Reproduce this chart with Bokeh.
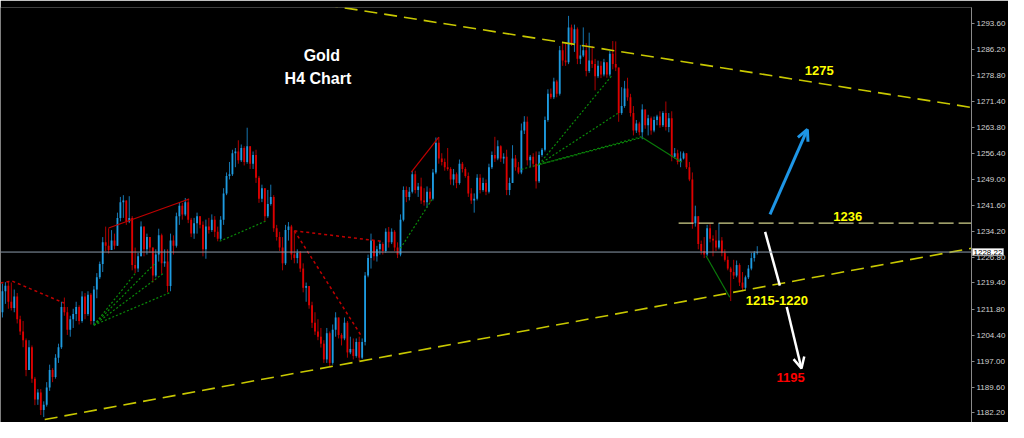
from bokeh.plotting import figure
from bokeh.models import Range1d, FixedTicker, NumeralTickFormatter, Span, Label, Arrow, OpenHead, ColumnDataSource
from bokeh.embed import file_html
from bokeh.resources import INLINE

# ---------------- data ----------------
first_open = 1211.0
close = [1217.0, 1218.6, 1214.0, 1212.2, 1215.5, 1209.0, 1205.5, 1203.0, 1194.5, 1201.0,
         1192.0, 1186.0, 1188.0, 1183.0, 1184.5, 1189.5, 1194.5, 1192.5, 1198.0, 1201.0,
         1212.5, 1211.0, 1206.0, 1209.0, 1210.5, 1212.5, 1208.5, 1215.5, 1210.5, 1216.0,
         1208.5, 1217.5, 1221.0, 1224.8, 1231.0, 1230.0, 1228.8, 1231.5, 1230.0, 1238.0,
         1242.5, 1243.0, 1237.0, 1238.0, 1224.5, 1223.5, 1227.0, 1235.5, 1229.0, 1232.5,
         1229.5, 1221.5, 1227.5, 1233.0, 1225.0, 1225.5, 1218.5, 1231.5, 1230.0, 1238.5,
         1241.5, 1239.0, 1242.5, 1237.5, 1233.5, 1236.5, 1238.5, 1236.0, 1229.0, 1235.5,
         1234.5, 1237.5, 1234.0, 1232.0, 1237.5, 1245.0, 1250.0, 1250.5, 1256.5, 1257.0,
         1254.5, 1258.0, 1254.0, 1258.5, 1253.5, 1256.0, 1249.5, 1243.5, 1246.5, 1238.5,
         1242.0, 1244.0, 1235.0, 1232.5, 1229.5, 1225.0, 1234.5, 1235.5, 1227.5, 1226.5,
         1228.0, 1223.5, 1218.0, 1218.5, 1213.0, 1208.0, 1205.5, 1204.0, 1202.0, 1197.5,
         1205.0, 1196.5, 1206.0, 1209.5, 1204.5, 1203.5, 1208.0, 1199.5, 1200.5, 1198.5,
         1202.5, 1198.0, 1202.5, 1221.5, 1226.5, 1231.5, 1227.0, 1229.0, 1230.5, 1228.5,
         1234.0, 1231.0, 1234.0, 1229.5, 1227.5, 1237.5, 1246.0, 1244.0, 1245.5, 1250.5,
         1246.0, 1247.0, 1243.0, 1242.5, 1245.5, 1243.5, 1251.0, 1259.5, 1255.0, 1254.0,
         1252.5, 1252.0, 1249.0, 1250.5, 1248.0, 1253.5, 1252.0, 1250.0, 1245.0, 1243.0,
         1243.5, 1249.5, 1246.0, 1248.0, 1245.5, 1252.5, 1256.0, 1255.0, 1258.5, 1255.0,
         1255.5, 1246.0, 1248.0, 1255.0, 1252.5, 1251.0, 1263.0, 1265.5, 1254.5, 1255.5,
         1253.5, 1248.5, 1256.0, 1257.5, 1266.0, 1273.5, 1272.5, 1277.0, 1273.5, 1286.0,
         1283.0, 1282.5, 1292.5, 1288.0, 1292.0, 1283.5, 1284.5, 1286.0, 1280.0, 1283.0,
         1282.0, 1278.5, 1281.5, 1279.0, 1282.5, 1279.0, 1285.0, 1282.0, 1281.0, 1268.0,
         1270.0, 1275.0, 1272.5, 1268.0, 1263.0, 1265.0, 1262.5, 1269.0, 1264.5, 1266.5,
         1263.0, 1266.0, 1267.0, 1264.5, 1268.0, 1264.0, 1266.5, 1255.5, 1256.5, 1254.0,
         1255.0, 1256.5, 1252.5, 1249.0, 1236.5, 1238.5, 1230.5, 1228.5, 1227.5, 1235.0,
         1232.0, 1231.5, 1229.5, 1231.5, 1228.0, 1226.0, 1223.5, 1222.5, 1221.5, 1224.5,
         1219.5, 1218.0, 1221.0, 1223.5, 1226.5, 1228.0, 1228.22]
high = [1219.2, 1219.6, 1219.8, 1219.5, 1217.5, 1216.5, 1210.0, 1208.5, 1203.5, 1203.0,
        1201.5, 1192.5, 1189.0, 1189.0, 1185.5, 1191.0, 1196.0, 1195.0, 1199.0, 1202.0,
        1214.0, 1215.2, 1212.5, 1210.0, 1212.0, 1214.0, 1213.0, 1217.0, 1216.5, 1217.0,
        1216.5, 1218.5, 1222.2, 1225.5, 1232.5, 1235.5, 1235.0, 1234.5, 1233.5, 1239.5,
        1244.0, 1244.5, 1240.5, 1244.2, 1238.5, 1229.5, 1228.0, 1237.0, 1235.0, 1233.5,
        1232.5, 1229.5, 1229.0, 1234.9, 1233.5, 1229.0, 1229.0, 1233.5, 1233.0, 1239.5,
        1242.5, 1242.3, 1243.7, 1243.5, 1238.0, 1238.0, 1239.5, 1238.5, 1237.0, 1237.5,
        1238.0, 1239.0, 1238.5, 1235.5, 1238.5, 1246.5, 1251.0, 1254.0, 1257.5, 1258.0,
        1260.2, 1259.0, 1258.5, 1263.8, 1258.5, 1257.0, 1257.5, 1250.0, 1247.5, 1246.5,
        1246.0, 1247.5, 1244.5, 1236.0, 1234.0, 1232.5, 1236.0, 1236.8, 1236.0, 1234.3,
        1229.0, 1228.5, 1225.0, 1219.5, 1218.5, 1214.0, 1211.0, 1209.0, 1206.5, 1203.0,
        1206.5, 1205.5, 1207.5, 1211.0, 1209.5, 1205.0, 1209.5, 1208.5, 1204.0, 1203.5,
        1203.5, 1204.0, 1203.5, 1222.5, 1227.5, 1233.5, 1231.5, 1230.0, 1231.3, 1231.0,
        1235.0, 1235.4, 1235.0, 1234.5, 1231.0, 1239.0, 1247.0, 1247.0, 1246.8, 1251.5,
        1251.5, 1248.0, 1249.5, 1246.5, 1247.0, 1246.5, 1252.0, 1261.0, 1261.1, 1256.5,
        1255.0, 1258.0, 1252.5, 1252.0, 1251.0, 1254.7, 1254.0, 1252.5, 1251.0, 1246.5,
        1245.0, 1250.5, 1250.5, 1249.5, 1249.0, 1253.5, 1257.0, 1261.2, 1260.2, 1258.8,
        1256.5, 1257.5, 1249.5, 1258.8, 1256.0, 1254.0, 1265.0, 1267.1, 1267.0, 1256.0,
        1256.5, 1257.0, 1257.0, 1258.0, 1267.0, 1274.8, 1275.0, 1278.1, 1277.5, 1287.2,
        1288.3, 1288.0, 1295.8, 1293.3, 1293.3, 1292.5, 1287.5, 1292.5, 1288.0, 1291.0,
        1287.2, 1283.5, 1283.0, 1282.8, 1283.5, 1282.5, 1285.8, 1288.6, 1288.5, 1281.0,
        1275.4, 1277.2, 1278.1, 1273.5, 1270.0, 1266.0, 1265.5, 1270.5, 1269.0, 1267.5,
        1267.0, 1267.0, 1267.5, 1268.5, 1268.5, 1271.3, 1268.0, 1268.5, 1258.0, 1257.5,
        1257.0, 1257.0, 1256.5, 1254.0, 1251.0, 1241.5, 1238.5, 1231.5, 1232.5, 1236.0,
        1236.2, 1233.0, 1234.5, 1236.5, 1232.5, 1229.0, 1227.0, 1224.0, 1226.0, 1225.8,
        1225.0, 1222.5, 1221.5, 1224.5, 1228.0, 1228.5, 1229.9]
low = [1209.5, 1213.4, 1212.0, 1211.5, 1211.0, 1207.8, 1204.5, 1201.0, 1192.7, 1195.0,
       1190.8, 1184.4, 1184.5, 1181.6, 1181.0, 1184.0, 1188.5, 1191.0, 1192.0, 1196.5,
       1200.5, 1210.0, 1204.5, 1204.0, 1206.5, 1208.5, 1207.5, 1208.0, 1209.0, 1210.0,
       1207.5, 1207.3, 1215.0, 1220.5, 1222.5, 1228.5, 1227.8, 1229.5, 1229.0, 1230.0,
       1237.0, 1238.0, 1236.0, 1236.5, 1223.0, 1222.2, 1222.5, 1228.0, 1227.0, 1227.5,
       1228.0, 1219.5, 1221.0, 1225.5, 1222.0, 1224.0, 1216.7, 1217.0, 1227.5, 1229.5,
       1236.0, 1237.5, 1238.5, 1236.5, 1232.5, 1232.0, 1233.5, 1235.0, 1227.0, 1226.3,
       1233.5, 1234.0, 1232.5, 1231.3, 1231.5, 1236.0, 1244.5, 1249.0, 1250.0, 1252.5,
       1253.5, 1254.0, 1253.0, 1253.5, 1252.0, 1252.0, 1248.0, 1242.3, 1242.5, 1237.0,
       1238.0, 1241.5, 1234.0, 1231.5, 1228.5, 1223.0, 1224.5, 1231.5, 1226.0, 1225.0,
       1225.0, 1222.5, 1216.7, 1214.0, 1212.0, 1206.5, 1204.5, 1203.0, 1200.9, 1196.5,
       1196.5, 1195.4, 1196.0, 1204.0, 1203.5, 1201.5, 1203.0, 1198.0, 1199.0, 1197.5,
       1198.0, 1197.0, 1197.6, 1201.5, 1221.0, 1223.5, 1225.8, 1225.5, 1227.5, 1227.5,
       1228.0, 1229.5, 1230.5, 1228.5, 1226.5, 1227.0, 1237.0, 1242.5, 1243.0, 1245.0,
       1245.0, 1244.0, 1242.0, 1241.5, 1240.9, 1242.3, 1243.0, 1250.5, 1253.5, 1253.0,
       1251.5, 1251.5, 1247.5, 1247.3, 1246.5, 1247.5, 1251.0, 1249.5, 1244.0, 1242.0,
       1239.5, 1243.0, 1245.0, 1245.5, 1244.5, 1245.0, 1252.0, 1254.0, 1254.5, 1254.0,
       1253.5, 1244.5, 1244.5, 1248.0, 1251.5, 1250.5, 1250.5, 1262.0, 1253.0, 1252.5,
       1252.5, 1246.4, 1248.0, 1255.5, 1257.0, 1265.5, 1272.0, 1272.0, 1272.5, 1273.0,
       1281.5, 1281.5, 1282.0, 1287.2, 1285.5, 1282.0, 1282.0, 1284.0, 1278.5, 1279.5,
       1280.9, 1274.5, 1278.0, 1278.0, 1278.5, 1278.1, 1278.5, 1280.5, 1280.0, 1265.5,
       1267.5, 1269.5, 1271.5, 1267.0, 1261.6, 1262.3, 1261.6, 1260.5, 1263.5, 1261.6,
       1261.8, 1262.5, 1264.5, 1263.8, 1264.0, 1263.0, 1262.5, 1254.2, 1255.0, 1253.3,
       1252.5, 1254.7, 1252.0, 1248.5, 1234.9, 1235.5, 1229.0, 1227.5, 1226.5, 1227.0,
       1231.0, 1227.0, 1228.5, 1229.0, 1227.0, 1225.5, 1223.0, 1214.2, 1220.5, 1221.0,
       1218.5, 1217.0, 1217.5, 1220.5, 1223.0, 1225.5, 1227.5]

current_price = 1228.22
tick_values = [1182.2, 1189.6, 1197.0, 1204.4, 1211.8, 1219.4, 1226.8, 1234.2,
               1241.6, 1249.0, 1256.4, 1263.8, 1271.4, 1278.8, 1286.2, 1293.6]

# drawn studies (candle index, price)
upper_trend_x = [102.67, 328.67]
upper_trend_y = [1299.9, 1269.6]
lower_trend_x = [14.33, 328.67]
lower_trend_y = [1180.3, 1229.3]
level_x = [229.33, 328.67]
level_y = [1236.5, 1236.5]

red_dash_lines = [([-0.67, 3.33, 21.0], [1219.4, 1219.9, 1213.6]),
                  ([99.0, 121.67], [1234.3, 1204.3]),
                  ([99.0, 128.67], [1234.3, 1231.3])]
red_solid_lines = [([36.0, 63.33], [1235.1, 1243.4]),
                   ([138.67, 148.0], [1251.1, 1261.1])]
green_dot_lines = [([31.0, 45.33], [1207.3, 1222.4]),
                   ([31.0, 52.0], [1207.3, 1225.2]),
                   ([31.0, 54.67], [1207.3, 1222.2]),
                   ([31.0, 57.0], [1207.3, 1216.7]),
                   ([73.67, 89.33], [1231.3, 1237.1]),
                   ([135.0, 146.0], [1229.3, 1243.7]),
                   ([182.0, 206.67], [1253.3, 1278.7]),
                   ([182.0, 208.67], [1253.3, 1267.9]),
                   ([182.0, 217.0], [1253.3, 1261.3]),
                   ([176.0, 217.0], [1251.9, 1261.0])]
green_solid_lines = [([217.0, 230.33], [1261.0, 1253.9]),
                     ([238.67, 246.67], [1227.1, 1215.3])]

blue_arrow = (260.33, 1239.0, 273.0, 1263.3)
white_seg = (258.67, 1234.0, 263.67, 1218.6)
white_arrow = (266.0, 1212.5, 271.0, 1194.9)

# ---------------- figure ----------------
# the price tag lives in the "above" panel (side-panel annotations are not clipped);
# that panel takes a few px, so the price range is trimmed at the top to keep the same scale
p = figure(width=1008, height=422, output_backend="svg", toolbar_location=None,
           x_range=Range1d(-0.667, 328.667), y_range=Range1d(1179.45, 1298.2),
           x_axis_location=None, y_axis_location="right", min_border=0)
p.background_fill_color = "black"
p.border_fill_color = "black"
p.outline_line_color = None
p.xgrid.visible = False
p.ygrid.visible = False

ax = p.yaxis[0]
ax.ticker = FixedTicker(ticks=tick_values)
ax.formatter = NumeralTickFormatter(format="0.00")
ax.axis_line_color = "#8a8a8a"
ax.major_tick_line_color = "#8a8a8a"
ax.major_tick_out = 3
ax.major_tick_in = 0
ax.minor_tick_out = 0
ax.minor_tick_in = 0
ax.major_label_standoff = 2
ax.major_label_text_font = "Liberation Sans"
ax.major_label_text_font_size = "8px"
ax.major_label_text_color = "#d0d0d0"

# candles
opens = [first_open] + close[:-1]
bx, bt, bb, bh, bl = [], [], [], [], []
rx, rt, rb, rh, rl = [], [], [], [], []
for i, (o, c, h, l) in enumerate(zip(opens, close, high, low)):
    h = max(h, o, c)
    l = min(l, o, c)
    top, bot = max(o, c), min(o, c)
    if bot == top:
        top += 0.15
    if c >= o:
        bx.append(i); bt.append(top); bb.append(bot); bh.append(h); bl.append(l)
    else:
        rx.append(i); rt.append(top); rb.append(bot); rh.append(h); rl.append(l)

bull = ColumnDataSource(dict(x=bx, top=bt, bottom=bb, high=bh, low=bl))
bear = ColumnDataSource(dict(x=rx, top=rt, bottom=rb, high=rh, low=rl))
p.segment(x0="x", y0="low", x1="x", y1="high", source=bull, line_color="#1676b0", line_width=1)
p.segment(x0="x", y0="low", x1="x", y1="high", source=bear, line_color="#b00000", line_width=1)
p.vbar(x="x", width=0.62, top="top", bottom="bottom", source=bull, fill_color="#1e9be0", line_color=None)
p.vbar(x="x", width=0.62, top="top", bottom="bottom", source=bear, fill_color="#dd0000", line_color=None)

# studies
for xs, ys in red_dash_lines:
    p.line(xs, ys, line_color="#c00000", line_width=1.5, line_dash="3 3")
for xs, ys in red_solid_lines:
    p.line(xs, ys, line_color="#c00000", line_width=1.2)
for xs, ys in green_dot_lines:
    p.line(xs, ys, line_color="#0a8a0a", line_width=1.2, line_dash="2 2")
for xs, ys in green_solid_lines:
    p.line(xs, ys, line_color="#0a7a0a", line_width=1.2)

p.line(upper_trend_x, upper_trend_y, line_color="#c8c800", line_width=1.6, line_dash="13 7")
p.line(lower_trend_x, lower_trend_y, line_color="#c8c800", line_width=1.6, line_dash="13 7")
p.line(level_x, level_y, line_color="#d2d28c", line_width=1.2, line_dash="15 5")

p.add_layout(Span(location=current_price, dimension="width", line_color="#8c9cac", line_width=1))

p.add_layout(Arrow(end=OpenHead(size=11, line_color="#1e96e6", line_width=3),
                   x_start=blue_arrow[0], y_start=blue_arrow[1], x_end=blue_arrow[2], y_end=blue_arrow[3],
                   line_color="#1e96e6", line_width=3))
p.line([white_seg[0], white_seg[2]], [white_seg[1], white_seg[3]], line_color="white", line_width=2.5)
p.add_layout(Arrow(end=OpenHead(size=11, line_color="white", line_width=2.5),
                   x_start=white_arrow[0], y_start=white_arrow[1], x_end=white_arrow[2], y_end=white_arrow[3],
                   line_color="white", line_width=2.5))

def lab(x, y, t, color, size):
    p.add_layout(Label(x=x, y=y, text=t, text_color=color, text_font="Liberation Sans",
                       text_font_style="bold", text_font_size=size,
                       text_align="center", text_baseline="middle"))

lab(108.33, 1284.5, "Gold", "white", "16px")
lab(107.0, 1277.9, "H4 Chart", "white", "16px")
lab(277.0, 1280.1, "1275", "#ffff00", "13px")
lab(286.67, 1238.4, "1236", "#ffff00", "13px")
lab(262.67, 1214.5, "1215-1220", "#ffff00", "13px")
lab(267.33, 1192.4, "1195", "#ff0000", "13px")

# current price tag over the axis labels
tag = Label(x=328.667, y=current_price, x_offset=1, text="1228.22", text_color="black",
            text_font="Liberation Sans", text_font_size="8px", text_baseline="middle",
            background_fill_color="white", border_line_color="#a0a0a0", padding=1)
p.add_layout(tag, "above")

open("out.html", "w").write(file_html(p, INLINE))
